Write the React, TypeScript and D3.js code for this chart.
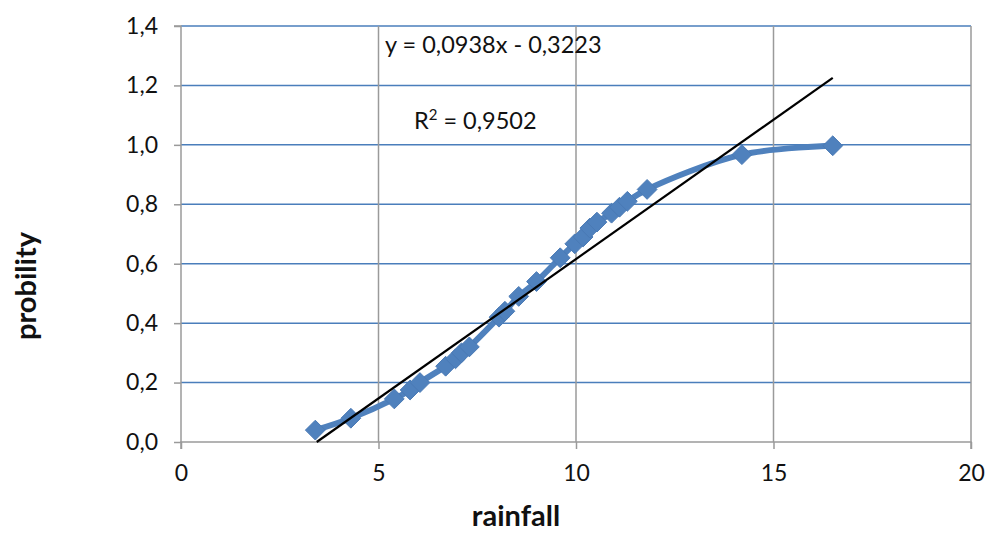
import { useEffect, useRef } from 'react';
import * as d3 from 'd3';

// rainfall vs cumulative probability
const rainfall = [3.4, 4.3, 5.4, 5.8, 6.05, 6.7, 6.95, 7.1, 7.3, 8.05, 8.2, 8.55, 9.0, 9.6, 9.97, 10.18, 10.35, 10.53, 10.9, 11.1, 11.3, 11.8, 14.2, 16.5];
const probability = [0.04, 0.08, 0.145, 0.175, 0.2, 0.255, 0.28, 0.3, 0.32, 0.42, 0.44, 0.49, 0.54, 0.62, 0.667, 0.69, 0.72, 0.74, 0.77, 0.79, 0.81, 0.85, 0.967, 0.997];

const xTicks = [0, 5, 10, 15, 20];
const yTicks = [0, 0.2, 0.4, 0.6, 0.8, 1.0, 1.2, 1.4];

// linear trend line shown by the spreadsheet
const slope = 0.0938;
const intercept = -0.3223;
const equationLabel = 'y = 0,0938x - 0,3223';
const r2Label = '0,9502';

export default function App() {
  const ref = useRef<SVGSVGElement | null>(null);

  useEffect(() => {
    if (!ref.current) return;
    const width = 989;
    const height = 533;
    const margin = { left: 181, right: 18, top: 26, bottom: 91 };
    const font = 'Lato, "Open Sans", sans-serif';

    const svg = d3.select(ref.current);
    svg.selectAll('*').remove();

    const x = d3.scaleLinear().domain([0, 20]).range([margin.left, width - margin.right]);
    const y = d3.scaleLinear().domain([0, 1.4]).range([height - margin.bottom, margin.top]);
    const fmt = (v: number) => v.toFixed(1).replace('.', ',');

    // horizontal grid (blue)
    svg.append('g')
      .selectAll('line')
      .data(yTicks.filter(d => d > 0))
      .enter()
      .append('line')
      .attr('x1', x(0))
      .attr('x2', x(20))
      .attr('y1', d => y(d))
      .attr('y2', d => y(d))
      .attr('stroke', '#4a7ebb')
      .attr('stroke-width', 1.5);

    // vertical grid (grey)
    svg.append('g')
      .selectAll('line')
      .data(xTicks.filter(d => d > 0))
      .enter()
      .append('line')
      .attr('x1', d => x(d))
      .attr('x2', d => x(d))
      .attr('y1', y(0))
      .attr('y2', y(1.4))
      .attr('stroke', '#9a9a9a')
      .attr('stroke-width', 1.5);

    // axes
    const yAxis = svg.append('g')
      .attr('transform', `translate(${x(0)},0)`)
      .call(d3.axisLeft(y).tickValues(yTicks).tickFormat(d => fmt(+d)).tickSize(7).tickPadding(16));
    const xAxis = svg.append('g')
      .attr('transform', `translate(0,${y(0)})`)
      .call(d3.axisBottom(x).tickValues(xTicks).tickFormat(d => String(d)).tickSize(7).tickPadding(16));

    [yAxis, xAxis].forEach(ax => {
      ax.attr('font-size', null).attr('font-family', null);
      ax.select('.domain').attr('stroke', '#9a9a9a').attr('stroke-width', 1.5);
      ax.selectAll('.tick line').attr('stroke', '#9a9a9a').attr('stroke-width', 1.5);
      ax.selectAll('.tick text')
        .attr('fill', '#111')
        .style('font-family', font)
        .style('font-size', '23px');
    });
    yAxis.select('.domain').attr('d', `M-7,${y(1.4)}H0V${y(0)}`);
    xAxis.select('.domain').attr('d', `M${x(0)},7V0H${x(20)}V7`);

    // smoothed series line
    const pts = rainfall.map((r, i) => [r, probability[i]] as [number, number]);
    const line = d3.line<[number, number]>()
      .x(d => x(d[0]))
      .y(d => y(d[1]))
      .curve(d3.curveCatmullRom.alpha(0.5));

    svg.append('path')
      .datum(pts)
      .attr('d', line)
      .attr('fill', 'none')
      .attr('stroke', '#4f81bd')
      .attr('stroke-width', 6)
      .attr('stroke-linejoin', 'round');

    // diamond markers
    const diamond = d3.symbol().type(d3.symbolDiamond2).size(250);
    svg.append('g')
      .selectAll('path')
      .data(pts)
      .enter()
      .append('path')
      .attr('d', diamond)
      .attr('transform', d => `translate(${x(d[0])},${y(d[1])})`)
      .attr('fill', '#4f81bd')
      .attr('stroke', '#4a7ab5')
      .attr('stroke-width', 1);

    // trend line across the data range
    const x0 = d3.min(rainfall) as number;
    const x1 = d3.max(rainfall) as number;
    const trend: [number, number][] = [[Math.max(x0, -intercept / slope), 0], [x1, slope * x1 + intercept]];
    svg.append('path')
      .datum(trend)
      .attr('d', d3.line<[number, number]>().x(d => x(d[0])).y(d => y(d[1])))
      .attr('stroke', '#000')
      .attr('stroke-width', 2.2)
      .attr('fill', 'none');

    // equation labels
    svg.append('text')
      .attr('x', 385)
      .attr('y', 53)
      .style('font-family', font)
      .style('font-size', '23.5px')
      .attr('fill', '#111')
      .text(equationLabel);

    const r2 = svg.append('text')
      .attr('x', 414)
      .attr('y', 129)
      .style('font-family', font)
      .style('font-size', '23.5px')
      .attr('fill', '#111');
    r2.append('tspan').text('R');
    r2.append('tspan').attr('dy', -9).style('font-size', '15px').text('2');
    r2.append('tspan').attr('dy', 9).text(` = ${r2Label}`);

    // axis titles
    svg.append('text')
      .attr('transform', `translate(36,${(y(0) + y(1.4)) / 2 + 52}) rotate(-90)`)
      .attr('text-anchor', 'middle')
      .style('font-family', font)
      .style('font-size', '29px')
      .style('font-weight', 'bold')
      .attr('fill', '#111')
      .text('probility');

    svg.append('text')
      .attr('x', 516)
      .attr('y', 526)
      .attr('text-anchor', 'middle')
      .style('font-family', font)
      .style('font-size', '29px')
      .style('font-weight', 'bold')
      .attr('fill', '#111')
      .text('rainfall');
  }, []);

  return (
    <svg
      ref={ref}
      width={989}
      height={533}
      style={{ position: 'absolute', left: 0, top: 0, background: '#fff' }}
    />
  );
}
